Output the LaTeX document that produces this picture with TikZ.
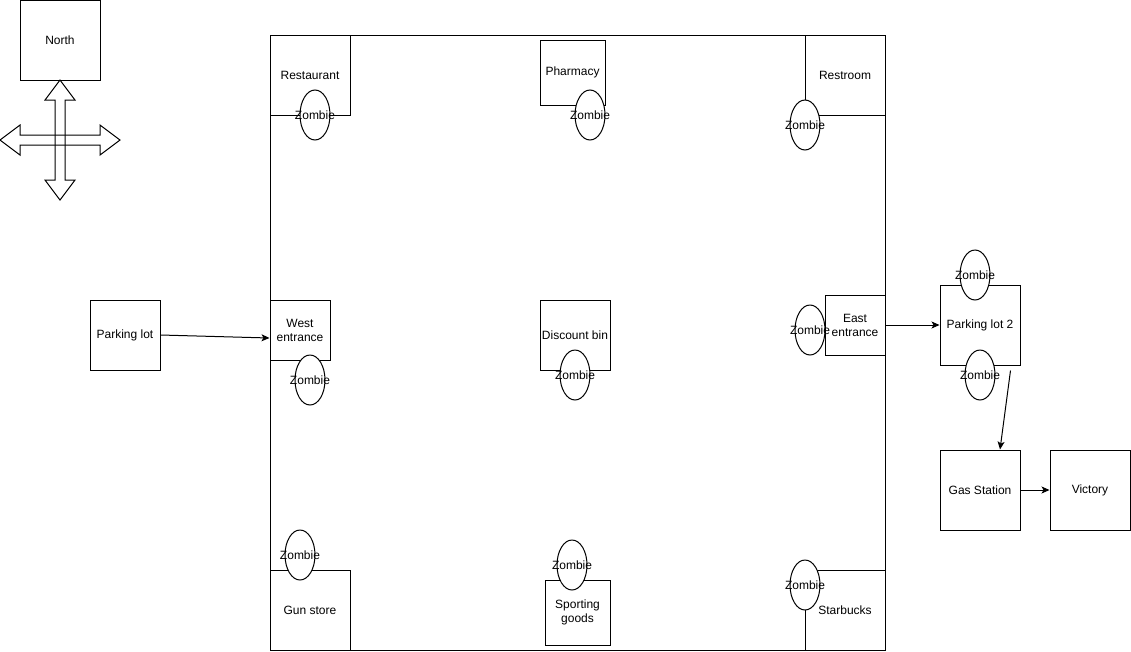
\documentclass[tikz,border=0pt]{standalone}
\usepackage{fontspec}
\setmainfont{Liberation Sans}
\usetikzlibrary{shapes.geometric,arrows.meta}

\tikzset{
  room/.style={draw,fill=white,minimum size=#1,inner sep=0pt,align=center},
  room/.default=80pt,
  zombie/.style={draw,fill=white,ellipse,minimum width=30pt,minimum height=50pt,inner sep=0pt,label={center:Zombie}},
  link/.style={-{Stealth[length=8pt,width=7pt,inset=2pt]}}
}

\begin{document}
\begin{tikzpicture}[x=1pt,y=-1pt,line width=1pt,font=\fontsize{12}{14}\selectfont]
\useasboundingbox (0,0) rectangle (1131,651);
% compass
\node[room] (north) at (60,40) {North};
\draw (60,80)--(75,100)--(65,100)--(65,180)--(75,180)--(60,200)--(45,180)--(55,180)--(55,100)--(45,100)--cycle;
\draw (0,140)--(20,125)--(20,135)--(100,135)--(100,125)--(120,140)--(100,155)--(100,145)--(20,145)--(20,155)--cycle;
% mall
\draw (270,35) rectangle (885,650);
\node[room] (rest) at (310,75) {Restaurant};
\node[room=65pt] (pharm) at (572.5,72.5) {Pharmacy};
\node[room] (restroom) at (845,75) {Restroom};
\node[room=60pt] (west) at (300,330) {West\\entrance};
\node[room=70pt] (bin) at (575,335) {Discount bin};
\node[room=60pt] (east) at (855,325) {East\\entrance};
\node[room] (gun) at (310,610) {Gun store};
\node[room=65pt] (sport) at (577.5,612.5) {Sporting\\goods};
\node[room] (star) at (845,610) {Starbucks};
% outside
\node[room=70pt] (lot) at (125,335) {Parking lot};
\node[room] (lot2) at (980,325) {Parking lot 2};
\node[room] (gas) at (980,490) {Gas Station};
\node[room] (win) at (1090,490) {Victory};
% zombies
\node[zombie] (zRest) at (315,115) {};
\node[zombie] (zPharm) at (590,115) {};
\node[zombie] (zRestroom) at (805,125) {};
\node[zombie] (zWest) at (310,380) {};
\node[zombie] (zBin) at (575,375) {};
\node[zombie] (zEast) at (810,330) {};
\node[zombie] (zLotTop) at (975,275) {};
\node[zombie] (zLotBot) at (980,375) {};
\node[zombie] (zGun) at (300,555) {};
\node[zombie] (zSport) at (572,565) {};
\node[zombie] (zStar) at (805,585) {};
% routes
\draw[link] (lot.east) -- ([yshift=-8pt]west.west);
\draw[link] (east.east) -- (lot2.west);
\draw[link] ([shift={(-10pt,-5pt)}]lot2.south east) -- ([xshift=20pt]gas.north);
\draw[link] (gas.east) -- (win.west);
\end{tikzpicture}
\end{document}
